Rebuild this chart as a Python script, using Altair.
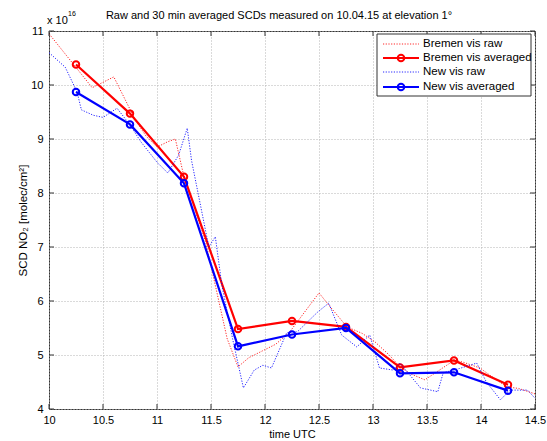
import altair as alt
import pandas as pd

# ---------------- data ----------------
title_text = "Raw and 30 min averaged SCDs measured on 10.04.15 at elevation 1°"
x_ticks = [10, 10.5, 11, 11.5, 12, 12.5, 13, 13.5, 14, 14.5]
y_ticks = [4, 5, 6, 7, 8, 9, 10, 11]

avg_time = [10.25, 10.75, 11.25, 11.75, 12.25, 12.75, 13.25, 13.75, 14.25]
bremen_avg = [10.38, 9.47, 8.30, 5.48, 5.63, 5.52, 4.77, 4.90, 4.45]
new_avg = [9.87, 9.27, 8.18, 5.16, 5.38, 5.50, 4.66, 4.68, 4.34]

bremen_raw_time = [10.0, 10.1, 10.2, 10.3, 10.4, 10.5, 10.6, 10.7, 10.8, 10.9,
                   11.0, 11.1, 11.17, 11.25, 11.35, 11.45, 11.55, 11.65, 11.75,
                   11.85, 12.0, 12.1, 12.23, 12.35, 12.5, 12.6, 12.76, 12.9,
                   13.02, 13.15, 13.25, 13.35, 13.48, 13.6, 13.75, 13.83, 13.99,
                   14.1, 14.24, 14.35, 14.5]
bremen_raw = [10.95, 10.7, 10.45, 10.2, 9.95, 10.05, 10.15, 9.75, 9.35, 9.05,
              8.85, 8.95, 9.0, 8.3, 7.7, 7.1, 6.2, 5.3, 4.78,
              4.95, 5.1, 5.2, 5.43, 5.75, 6.15, 5.9, 5.52, 5.4,
              5.24, 5.0, 4.78, 4.65, 4.54, 4.7, 4.9, 4.87, 4.76,
              4.6, 4.41, 4.38, 4.28]

new_raw_time = [10.0, 10.15, 10.26, 10.3, 10.41, 10.5, 10.63, 10.75, 10.85,
                11.0, 11.1, 11.2, 11.28, 11.32, 11.4, 11.48, 11.54, 11.6, 11.7,
                11.8, 11.9, 11.98, 12.06, 12.2, 12.3, 12.49, 12.59, 12.71,
                12.85, 12.97, 13.06, 13.19, 13.25, 13.44, 13.6, 13.65, 13.8,
                13.96, 14.05, 14.18, 14.27, 14.43, 14.5]
new_raw = [10.6, 10.33, 9.87, 9.54, 9.44, 9.4, 9.57, 9.26, 8.95,
           8.57, 8.37, 8.7, 9.2, 8.6, 7.8, 7.0, 7.19, 6.3, 5.3,
           4.39, 4.72, 4.81, 4.76, 5.41, 5.43, 5.8, 5.96, 5.37,
           5.15, 5.37, 4.76, 4.72, 4.85, 4.39, 4.32, 4.67, 4.75,
           4.85, 4.5, 4.17, 4.35, 4.35, 4.2]

legend_labels = ["Bremen vis raw", "Bremen vis averaged", "New vis raw", "New vis averaged"]

# ---------------- style ----------------
W, H = 486, 378
FONT = "Liberation Sans"
RED = "#ff0000"
BLUE = "#0000ff"
FRAME = "#333333"

xs = alt.Scale(domain=[10, 14.5], nice=False, zero=False)
ys = alt.Scale(domain=[4, 11], nice=False, zero=False)

xaxis = alt.Axis(values=x_ticks, title="time UTC", grid=True, gridDash=[1, 2],
                 gridColor="#b4b4b4", domain=False, ticks=False, labelPadding=5,
                 labelFontSize=11, labelFont=FONT, labelColor="black",
                 titleFont=FONT, titleFontSize=11, titleFontWeight="normal",
                 titleColor="black", titlePadding=3, format="~g", labelFlush=False)
yaxis = alt.Axis(values=y_ticks, title="SCD NO\u2082 [molec/cm\u00b2]", grid=True,
                 gridDash=[1, 2], gridColor="#b4b4b4", domain=False, ticks=False,
                 labelPadding=6, labelFontSize=11, labelFont=FONT, labelColor="black",
                 titleFont=FONT, titleFontSize=11.5, titleFontWeight="normal",
                 titleColor="black", titlePadding=2, format="~g")

def X(field):
    return alt.X(field, type="quantitative", scale=xs, axis=xaxis)

def Y(field):
    return alt.Y(field, type="quantitative", scale=ys, axis=yaxis)

layers = []

tick_x_df = pd.DataFrame({"t": x_ticks})
tick_y_df = pd.DataFrame({"v": y_ticks})

def raw_layer(tt, vv, color):
    df = pd.DataFrame({"t": tt, "v": vv})
    return alt.Chart(df).mark_line(color=color, strokeWidth=1, strokeDash=[1.2, 1.5],
                                   opacity=0.85, clip=True).encode(x=X("t"), y=Y("v"))

def avg_layers(tt, vv, color):
    df = pd.DataFrame({"t": tt, "v": vv})
    base = alt.Chart(df).encode(x=X("t"), y=Y("v"))
    return [base.mark_line(color=color, strokeWidth=2.2),
            base.mark_point(shape="circle", filled=False, color=color, size=42,
                            strokeWidth=2, opacity=1)]

layers.append(raw_layer(bremen_raw_time, bremen_raw, RED))
layers += avg_layers(avg_time, bremen_avg, RED)
layers.append(raw_layer(new_raw_time, new_raw, BLUE))
layers += avg_layers(avg_time, new_avg, BLUE)

# inward ticks on all four sides
tx = alt.Chart(tick_x_df)
ty = alt.Chart(tick_y_df)
layers.append(tx.mark_rule(color=FRAME).encode(x=X("t"), y=alt.value(H), y2=alt.value(H - 5)))
layers.append(tx.mark_rule(color=FRAME).encode(x=X("t"), y=alt.value(0), y2=alt.value(5)))
layers.append(ty.mark_rule(color=FRAME).encode(y=Y("v"), x=alt.value(0), x2=alt.value(5)))
layers.append(ty.mark_rule(color=FRAME).encode(y=Y("v"), x=alt.value(W), x2=alt.value(W - 5)))

# legend (drawn manually, MATLAB style)
one = pd.DataFrame({"a": [0]})
lg = alt.Chart(one)
layers.append(lg.mark_rect(fill="white", stroke=FRAME, strokeWidth=1).encode(
    x=alt.value(328), x2=alt.value(482), y=alt.value(3), y2=alt.value(65)))
styles = [(RED, True), (RED, False), (BLUE, True), (BLUE, False)]
rows_y = [13, 27, 41, 56]
for label, (color, raw), yy in zip(legend_labels, styles, rows_y):
    if raw:
        layers.append(lg.mark_rule(color=color, strokeWidth=1, strokeDash=[1.2, 1.5],
                                   opacity=0.85).encode(
            x=alt.value(334), x2=alt.value(370), y=alt.value(yy)))
    else:
        layers.append(lg.mark_rule(color=color, strokeWidth=2.2).encode(
            x=alt.value(334), x2=alt.value(370), y=alt.value(yy)))
        layers.append(lg.mark_point(shape="circle", filled=False, color=color, size=42,
                                    strokeWidth=2, opacity=1).encode(
            x=alt.value(352), y=alt.value(yy)))
    layers.append(lg.mark_text(text=label, align="left", baseline="middle", font=FONT,
                               fontSize=11.5, color="black").encode(
        x=alt.value(374), y=alt.value(yy)))

# title and exponent label
layers.append(lg.mark_text(text=title_text, align="center", baseline="alphabetic",
                           font=FONT, fontSize=11, color="black").encode(
    x=alt.value(W / 2 - 13), y=alt.value(-12)))
layers.append(lg.mark_text(text="x 10", align="left", baseline="alphabetic",
                           font=FONT, fontSize=11, color="black").encode(
    x=alt.value(-2), y=alt.value(-7)))
layers.append(lg.mark_text(text="16", align="left", baseline="alphabetic",
                           font=FONT, fontSize=7, color="black").encode(
    x=alt.value(19), y=alt.value(-15)))

chart = alt.layer(*layers).properties(
    width=W, height=H,
    autosize=alt.AutoSizeParams(type="none"),
    padding={"left": 49, "top": 31, "right": 12, "bottom": 32},
    background="white",
).configure_view(stroke=FRAME, strokeWidth=1)

chart.save("out.html", embed_options={"renderer": "svg", "actions": False})
